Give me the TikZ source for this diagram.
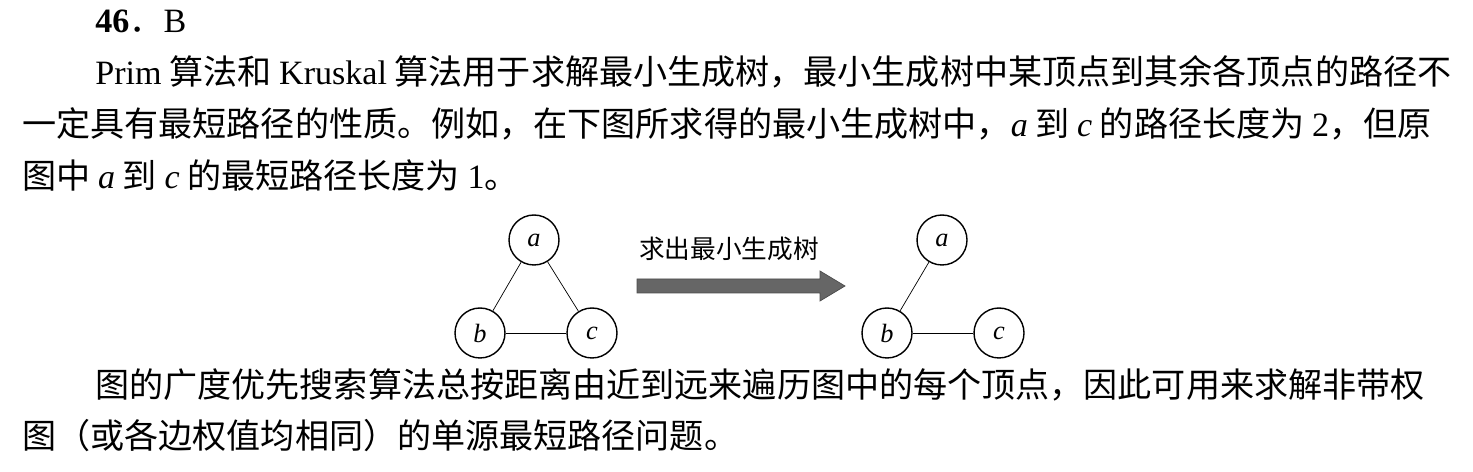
\documentclass[tikz,border=0pt]{standalone}
\usepackage{fontspec}
\setmainfont{Liberation Serif}
\newfontfamily\cjk{Noto Sans CJK SC}
\usetikzlibrary{positioning}
\newcommand{\vname}[1]{{\rmfamily\itshape #1}}
\tikzset{
  vtx/.style={circle,draw,thick,minimum size=1cm,inner sep=0pt,font=\fontsize{15}{15}\selectfont\itshape},
  txt/.style={anchor=base west,inner sep=0pt,font=\fontsize{19.4}{22}\selectfont\cjk}
}
\begin{document}
\begin{tikzpicture}[x=0.02cm,y=-0.02cm]
\useasboundingbox (0,0) rectangle (1473,472);
\node[txt] (l1) at (95,33) {\textrm{\textbf{46}}．\textrm{B}};
\node[txt] (l2) at (95,85) {\textrm{Prim} 算法和 \textrm{Kruskal} 算法用于求解最小生成树，最小生成树中某顶点到其余各顶点的路径不};
\node[txt] (l3) at (22,137) {一定具有最短路径的性质。例如，在下图所求得的最小生成树中，\vname{a} 到 \vname{c} 的路径长度为 \textrm{2}，但原};
\node[txt] (l4) at (22,189) {图中 \vname{a} 到 \vname{c} 的最短路径长度为 \textrm{1}。};
% left graph
\node[vtx] (a1) at (534,240) {a};
\node[vtx] (b1) at (480,333) {b};
\node[vtx] (c1) at (592,333) {c};
\draw (a1) -- (b1);
\draw (a1) -- (c1);
\draw (b1) -- (c1);
% arrow
\draw[draw=black!70,fill=black!60] (637,279) -- (820,279) -- (820,271) -- (845,286) -- (820,301) -- (820,293) -- (637,293) -- cycle;
\node[font=\fontsize{14.6}{14}\selectfont\cjk] (lab) at (729,249) {求出最小生成树};
% right graph
\node[vtx] (a2) at (942,240) {a};
\node[vtx] (b2) at (887,333) {b};
\node[vtx] (c2) at (999,333) {c};
\draw (a2) -- (b2);
\draw (b2) -- (c2);
\node[txt] (l5) at (95,398) {图的广度优先搜索算法总按距离由近到远来遍历图中的每个顶点，因此可用来求解非带权};
\node[txt] (l6) at (22,448) {图（或各边权值均相同）的单源最短路径问题。};
\end{tikzpicture}
\end{document}
